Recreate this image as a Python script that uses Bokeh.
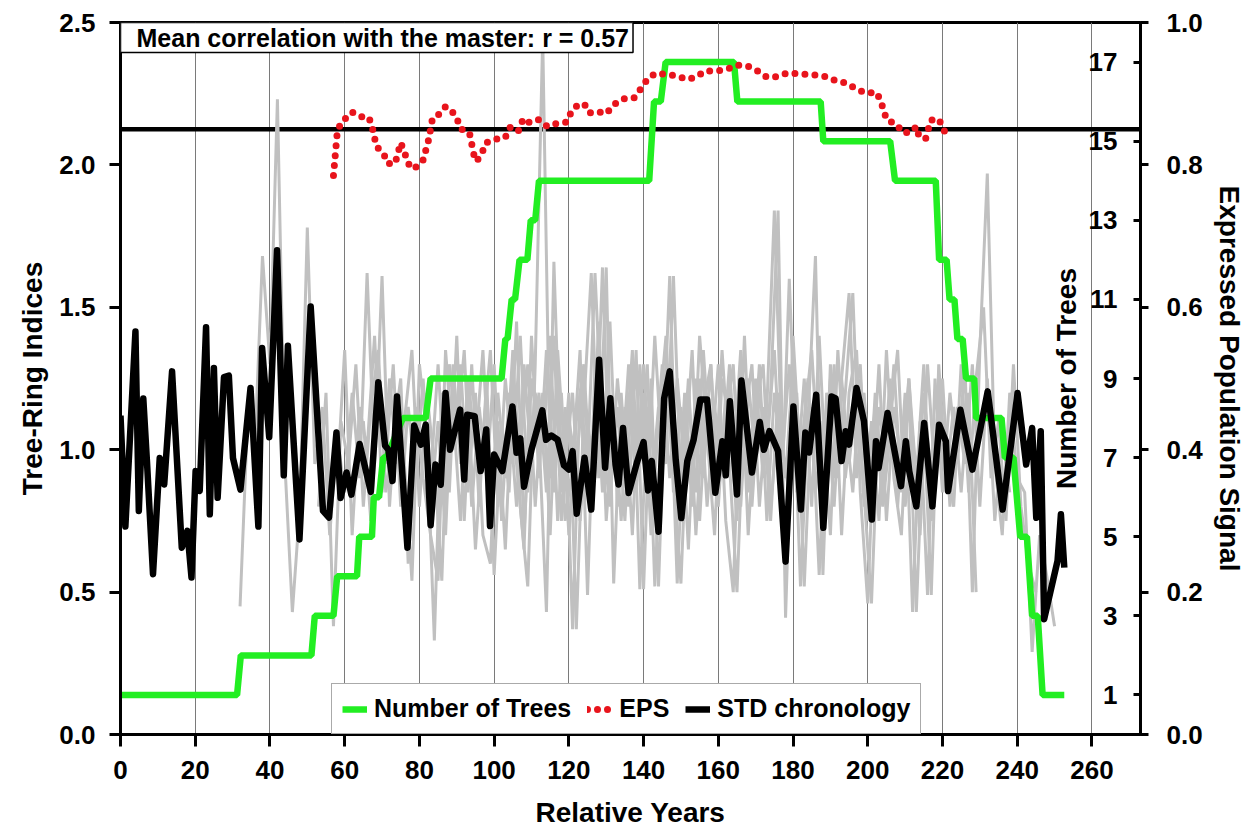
from bokeh.plotting import figure
from bokeh.models import (Range1d, LinearAxis, FixedTicker, PrintfTickFormatter,
                          Span, Label, Legend, LegendItem)
from bokeh.embed import file_html
from bokeh.resources import INLINE

FONT = "Liberation Sans"

# ---------------- data ----------------
x_ticks = [0, 20, 40, 60, 80, 100, 120, 140, 160, 180, 200, 220, 240, 260]
index_ticks = [0.0, 0.5, 1.0, 1.5, 2.0, 2.5]
tree_ticks = [1, 3, 5, 7, 9, 11, 13, 15, 17]
eps_ticks = [0.0, 0.2, 0.4, 0.6, 0.8, 1.0]
eps_threshold = 0.85
mean_r = 0.57

std_years = [0, 1.3, 4, 4.9, 6.1, 7.1, 8.7, 10.5, 11.7, 13.8, 16.4, 17.9, 19, 20.1, 21.2,
             22.9, 23.9, 25, 26, 27.7, 29, 30.1, 32.1, 34.8, 36.9, 37.9, 39.8, 41.9, 43.7,
             44.8, 47.9, 50.9, 54.2, 55.8, 57.8, 58.9, 60.5, 61.8, 64, 67, 69, 70.8, 71.7,
             72.8, 74, 76.8, 78.6, 80.4, 81.7, 83, 84.3, 85.7, 87, 88.2, 90.9, 92, 92.8,
             94.8, 96.4, 97.9, 98.9, 100, 102.2, 104.9, 106, 107, 108, 110, 112.9, 113.9,
             115.3, 117, 118.7, 120, 121, 122.1, 124.2, 126, 128.1, 129.7, 131.1, 132.5,
             133.3, 134.5, 136, 138.2, 140, 141.2, 142.2, 144, 145.5, 147, 148.6, 150.1,
             151.7, 153.4, 155.2, 157, 159.2, 161.1, 162, 163.1, 165, 166.2, 169, 171.1,
             172.2, 173.7, 176, 178, 180.1, 182.1, 183.3, 184.3, 186.2, 188.1, 190.3, 191.4,
             193, 194.1, 195, 197, 199, 201.1, 202.2, 202.9, 205.3, 208.9, 210.2, 211.1, 213,
             215.1, 217.3, 219.1, 220.9, 221.5, 224.8, 228, 232.1, 236.1, 240.1, 242.4, 244,
             245.1, 246.3, 247.2, 250.8, 251.7, 252.6]
std_values = [1.12, 0.73, 1.415, 0.785, 1.18, 0.954, 0.563, 0.971, 0.878, 1.275, 0.656, 0.715,
              0.551, 0.925, 0.855, 1.43, 0.773, 1.287, 0.831, 1.255, 1.26, 0.971, 0.86, 1.217,
              0.73, 1.357, 1.044, 1.70, 0.91, 1.365, 0.685, 1.503, 0.785, 0.762, 1.06, 0.83,
              0.92, 0.842, 1.02, 0.852, 1.237, 1.015, 1.0, 0.89, 1.187, 0.656, 1.085, 1.018,
              1.088, 0.735, 0.948, 0.877, 1.199, 1.0, 1.141, 0.895, 1.123, 1.118, 0.925, 1.071,
              0.732, 0.983, 0.925, 1.152, 0.989, 1.04, 0.87, 1.0, 1.138, 1.035, 1.05, 1.035,
              0.945, 0.93, 0.995, 0.775, 0.972, 0.79, 1.316, 0.937, 1.181, 0.947, 0.878, 1.076,
              0.848, 0.954, 1.027, 0.857, 0.96, 0.712, 1.18, 1.275, 0.966, 0.76, 0.96, 1.035,
              1.176, 1.176, 0.849, 1.03, 0.91, 1.17, 0.843, 1.243, 0.92, 1.097, 1.0, 1.065,
              0.995, 0.607, 1.152, 0.79, 1.06, 0.99, 1.193, 0.726, 1.187, 1.18, 0.96, 1.065,
              1.018, 1.217, 1.10, 0.755, 1.03, 0.936, 1.129, 0.872, 1.03, 0.925, 0.801, 1.094,
              0.801, 1.088, 1.03, 0.855, 1.14, 0.93, 1.205, 0.79, 1.199, 0.948, 1.076, 0.761,
              1.065, 0.405, 0.61, 0.773, 0.586]

eps_years = [57, 57.5, 58, 59, 60, 62, 64, 66.5, 67.5, 68.5, 70.5, 71.5, 73.5, 75, 76, 77,
             78.5, 81, 82.5, 83.5, 85, 87, 88.5, 90, 91, 93.4, 94.6, 95.3, 96.7, 97.8, 100,
             102.6, 103.3, 104.4, 106.6, 107.8, 109.3, 111.7, 114.2, 117.1, 119.4, 120.7,
             122.7, 124.3, 125.4, 127.6, 130, 132.1, 134.8, 137.4, 139.4, 141.2, 143.4, 146,
             148.9, 151.7, 153.9, 156.6, 159.3, 162.2, 165.1, 167.8, 170.5, 173, 175.8, 178.5,
             181.2, 184, 186.6, 189.5, 191.9, 194.3, 196.8, 199.5, 202.3, 203.5, 204.2, 205.1,
             207.5, 209.5, 211.5, 213.1, 213.7, 215.5, 216.9, 219.1, 220, 221.2]
eps_values = [0.785, 0.815, 0.845, 0.860, 0.864, 0.874, 0.868, 0.867, 0.850, 0.826, 0.815,
              0.802, 0.802, 0.831, 0.818, 0.802, 0.794, 0.807, 0.836, 0.865, 0.870, 0.882,
              0.877, 0.866, 0.851, 0.845, 0.814, 0.805, 0.816, 0.831, 0.836, 0.837, 0.841,
              0.854, 0.848, 0.865, 0.860, 0.864, 0.854, 0.859, 0.860, 0.875, 0.886, 0.884,
              0.873, 0.875, 0.872, 0.885, 0.893, 0.894, 0.908, 0.922, 0.929, 0.927, 0.925,
              0.920, 0.923, 0.932, 0.932, 0.934, 0.940, 0.939, 0.932, 0.923, 0.924, 0.929,
              0.928, 0.927, 0.926, 0.923, 0.917, 0.915, 0.907, 0.901, 0.902, 0.890, 0.877,
              0.863, 0.858, 0.845, 0.846, 0.854, 0.840, 0.837, 0.863, 0.864, 0.851, 0.843]

tree_years = [0, 31.2, 32.2, 51.1, 52, 57, 58, 63.3, 63.9, 67.3, 67.8, 69.2, 70.3, 71.2, 75.6,
              81.7, 83, 102, 103, 103.6, 104.7, 105.6, 106.8, 108.9, 109.8, 111, 112, 141.5,
              142.8, 144.6, 145.9, 164.2, 165.1, 187.4, 188.1, 206, 207.3, 218.2, 219.1, 221.1,
              221.9, 223.2, 224, 225.4, 226.3, 228.5, 229, 235.8, 236.7, 239, 240.8, 242.6,
              244, 245.5, 246.8, 252.6]
tree_counts = [1, 1, 2, 2, 3, 3, 4, 4, 5, 5, 6, 6, 7, 7, 8, 8, 9, 9, 10, 10, 11, 11, 12, 12,
               13, 13, 14, 14, 16, 16, 17, 17, 16, 16, 15, 15, 14, 14, 12, 12, 11, 11, 10, 10,
               9, 9, 8, 8, 7, 7, 5, 5, 3, 3, 1, 1]

# individual tree-ring series (values read every second year from the first year given)
grey_a_start = 32
grey_a = [0.45, 1.10, 1.02, 1.68, 1.30, 2.23, 0.95, 0.43, 0.80, 1.78, 0.95, 1.15, 0.70, 1.05,
          0.85, 1.20, 0.90, 1.62, 0.95, 1.61, 0.80, 1.20, 0.95, 0.54, 1.30, 1.05, 0.33, 1.20,
          0.85, 1.40, 0.75, 1.30, 0.80, 1.25, 0.56, 1.10, 0.85, 1.45, 0.70, 1.25, 1.05, 0.43,
          1.66, 0.85, 1.20, 0.37, 1.15, 1.62, 0.90, 1.64, 0.53, 1.20, 0.80, 1.35, 0.51, 1.25,
          0.52, 1.30, 0.90, 0.53, 1.20, 0.85, 1.35, 0.95, 1.30, 0.75, 0.50, 1.30, 0.85, 1.25,
          0.90, 1.20, 1.84, 0.41, 1.25, 0.52, 1.10, 1.68, 0.56, 1.30, 0.90, 1.20, 1.55, 0.85,
          0.46, 1.15, 0.90, 1.25, 0.80, 1.20, 0.43, 1.10, 0.49, 1.25, 0.85, 1.20, 0.95, 1.30,
          0.50, 1.35, 1.97, 0.95, 0.70, 1.20, 0.90, 0.85, 0.29, 0.70, 0.55, 0.38]
grey_b_start = 53
grey_b = [0.80, 1.20, 0.38, 1.10, 0.95, 1.30, 0.80, 1.15, 1.35, 0.85, 1.05, 1.25, 0.60, 1.15,
          0.90, 0.70, 0.54, 1.35, 1.00, 1.30, 0.85, 1.20, 0.70, 0.60, 1.20, 0.90, 1.35, 0.80,
          0.52, 1.30, 2.45, 0.90, 1.25, 0.75, 0.95, 1.35, 0.49, 1.30, 0.85, 1.45, 0.80, 1.15,
          0.70, 1.30, 0.85, 1.40, 0.95, 1.61, 0.75, 1.20, 0.80, 1.40, 1.05, 0.70, 1.25, 1.10,
          0.75, 1.40, 0.80, 1.20, 1.00, 1.35, 0.85, 1.60, 0.90, 1.25, 0.80, 1.40, 0.85, 1.30,
          0.70, 1.20, 1.35, 0.80, 1.10, 0.75, 1.35, 0.90, 0.70, 1.25, 0.90, 1.30, 0.75, 1.20,
          0.95, 0.80, 1.30, 0.85, 1.25, 1.50, 0.90, 1.10, 0.75, 1.30, 0.80, 0.60, 0.50]
grey_c_start = 58
grey_c = [0.90, 1.35, 0.70, 1.15, 1.00, 1.40, 0.85, 1.25, 0.95, 1.10, 1.35, 0.80, 1.20, 0.95,
          0.54, 1.30, 1.05, 1.35, 0.80, 1.15, 0.90, 1.30, 0.75, 1.20, 0.95, 0.65, 1.40, 0.90,
          1.35, 0.85, 1.20, 0.70, 1.10, 1.30, 0.85, 1.45, 0.75, 1.10, 0.90, 1.30, 0.85, 1.20,
          0.70, 1.10, 1.40, 0.85, 1.15, 0.65, 1.25, 0.90, 1.30, 0.80, 1.20, 0.95, 1.35, 0.70,
          1.15, 1.30, 0.80, 1.10, 0.65, 1.40, 0.95, 1.25, 0.85, 1.10, 0.70, 1.35, 0.90, 1.15,
          1.30, 0.75, 1.20, 0.85, 1.10, 1.35, 0.80, 1.05, 0.70, 1.30, 0.90, 1.25, 0.80, 1.15,
          0.95, 1.30, 0.80, 1.25, 0.75, 1.05, 0.85]
grey_d_start = 65
grey_d = [1.10, 0.75, 1.20, 0.95, 1.30, 0.80, 1.15, 0.90, 1.25, 0.80, 1.10, 0.70, 1.30, 0.95,
          1.20, 0.65, 1.05, 1.35, 0.80, 1.25, 0.95, 1.40, 0.85, 1.20, 1.00, 1.40, 0.75, 1.15,
          0.37, 1.20, 0.95, 1.62, 1.05, 0.80, 1.25, 0.95, 1.35, 0.51, 1.15, 0.95, 1.30, 0.90,
          1.25, 0.95, 1.35, 0.75, 1.20, 0.85, 1.35, 0.95, 0.50, 1.20, 0.90, 1.30, 0.75, 1.20,
          0.95, 1.30, 0.85, 1.10, 1.35, 0.90, 1.15, 0.80, 1.25, 0.95, 1.20, 0.85, 0.46, 1.15,
          0.95, 1.30, 0.85, 1.20, 0.43, 1.10, 0.49, 1.30, 0.90, 1.15, 0.85, 1.20, 0.50]
grey_e_start = 83
grey_e = [0.90, 1.30, 0.85, 1.15, 0.75, 1.25, 1.00, 1.35, 0.85, 1.10, 0.65, 1.25, 1.00, 1.30,
          0.80, 1.20, 0.70, 1.35, 0.95, 1.20, 0.75, 1.10, 0.90, 1.64, 0.85, 1.15, 0.75, 1.25,
          0.95, 1.30, 0.52, 1.10, 1.30, 0.53, 1.15, 0.90, 1.25, 0.80, 1.15, 0.95, 1.30, 0.85,
          1.10, 1.30, 0.80, 1.15, 1.84, 1.00, 0.85, 1.20, 0.52, 1.15, 0.56, 1.20, 0.90, 1.25,
          1.55, 0.90, 1.20, 0.85, 1.30, 0.75, 1.15, 0.95, 1.25, 0.80, 1.20, 0.90, 1.10, 0.85]
grey_f_start = 104
grey_f = [1.15, 0.80, 1.30, 0.95, 1.20, 0.85, 1.40, 0.75, 1.10, 0.95, 1.25, 0.80, 1.35, 0.95,
          1.15, 0.75, 1.20, 0.90, 1.30, 0.85, 1.15, 0.95, 1.61, 0.85, 1.25, 0.70, 1.15, 1.30,
          0.85, 1.10, 1.30, 0.80, 1.25, 0.95, 1.15, 0.75, 1.20, 0.90, 1.30, 0.80, 1.15, 1.05,
          0.75, 1.25, 0.95, 1.10, 0.85, 1.25, 0.90, 1.15, 0.80, 1.05]
grey_series = [(grey_a_start, grey_a), (grey_b_start, grey_b), (grey_c_start, grey_c),
               (grey_d_start, grey_d), (grey_e_start, grey_e), (grey_f_start, grey_f)]

# ---------------- figure ----------------
X_END = 273
p = figure(width=1247, height=836, output_backend="svg", toolbar_location=None,
           x_range=Range1d(0, X_END), y_range=Range1d(0, 2.5),
           min_border_left=120, min_border_right=107, min_border_top=22,
           min_border_bottom=102, background_fill_color="white",
           border_fill_color="white")
p.extra_y_ranges = {"trees": Range1d(0, 18), "eps": Range1d(0, 1)}
p.outline_line_color = "black"
p.outline_line_width = 3

def style_axis(ax, tick_len, standoff, title_standoff):
    ax.axis_line_color = "black"
    ax.axis_line_width = 3
    ax.major_tick_line_color = "black"
    ax.major_tick_line_width = 3
    ax.major_tick_out = tick_len
    ax.major_tick_in = 0
    ax.minor_tick_line_color = None
    ax.major_label_text_font = FONT
    ax.major_label_text_font_style = "bold"
    ax.major_label_text_font_size = "26px"
    ax.major_label_text_color = "black"
    ax.major_label_standoff = standoff
    ax.axis_label_text_font = FONT
    ax.axis_label_text_font_style = "bold"
    ax.axis_label_text_font_size = "28px"
    ax.axis_label_text_color = "black"
    ax.axis_label_standoff = title_standoff

xa = p.xaxis[0]
xa.ticker = FixedTicker(ticks=x_ticks)
xa.axis_label = "Relative Years"
style_axis(xa, 12, 14, 15)

ya = p.yaxis[0]
ya.ticker = FixedTicker(ticks=index_ticks)
ya.formatter = PrintfTickFormatter(format="%.1f")
ya.axis_label = "Tree-Ring Indices"
style_axis(ya, 11, 14, 8)

# right-hand EPS scale
eps_axis = LinearAxis(y_range_name="eps", ticker=FixedTicker(ticks=eps_ticks),
                      formatter=PrintfTickFormatter(format="%.1f"),
                      axis_label="Expressed Population Signal")
style_axis(eps_axis, 8, 18, 8)
p.add_layout(eps_axis, "right")

# inner "Number of Trees" scale on the right frame edge
tree_axis = LinearAxis(y_range_name="trees", ticker=FixedTicker(ticks=tree_ticks),
                       fixed_location=X_END, axis_label="Number of Trees")
style_axis(tree_axis, 7, 16, 4)
tree_axis.axis_line_color = None
p.add_layout(tree_axis, "left")

p.xgrid.ticker = FixedTicker(ticks=x_ticks)
p.xgrid.grid_line_color = "#7a7a7a"
p.xgrid.grid_line_width = 1
p.ygrid.visible = False

# EPS threshold line
p.add_layout(Span(location=eps_threshold, dimension="width", y_range_name="eps",
                  line_color="black", line_width=4.5, level="underlay"))

# grey individual series
for start, vals in grey_series:
    yrs = list(range(start, start + 2 * len(vals), 2))
    p.line(yrs, vals, line_color="#c0c0c0", line_width=3)

r_trees = p.line(tree_years, tree_counts, y_range_name="trees", line_color="#22ee22",
                 line_width=6.5)
r_std = p.line(std_years, std_values, line_color="black", line_width=6.5,
               line_join="round")
r_eps = p.line(eps_years, eps_values, y_range_name="eps", line_color="#e8141c",
               line_width=7, line_dash="0 10", line_cap="round")

box = Label(x=0, y=2.5, text="Mean correlation with the master: r = %.2f" % mean_r,
            text_font=FONT, text_font_style="bold", text_font_size="25px",
            text_color="black", text_align="left", text_baseline="top",
            background_fill_color="white", border_line_color="black",
            border_line_width=1.5, anchor="top_left",
            padding=dict(left=16, right=4, top=1, bottom=1))
p.add_layout(box)

legend = Legend(items=[LegendItem(label="Number of Trees", renderers=[r_trees]),
                       LegendItem(label="EPS", renderers=[r_eps]),
                       LegendItem(label="STD chronology", renderers=[r_std])],
                orientation="horizontal", location=(211, 0),
                label_text_font=FONT, label_text_font_style="bold",
                label_text_font_size="25px", label_text_color="black",
                glyph_width=25, glyph_height=20, label_standoff=7, spacing=16,
                padding=10, margin=0, border_line_color="#555555",
                border_line_width=1, background_fill_color="white",
                background_fill_alpha=1.0)
p.add_layout(legend)

open("out.html", "w").write(file_html(p, INLINE))
